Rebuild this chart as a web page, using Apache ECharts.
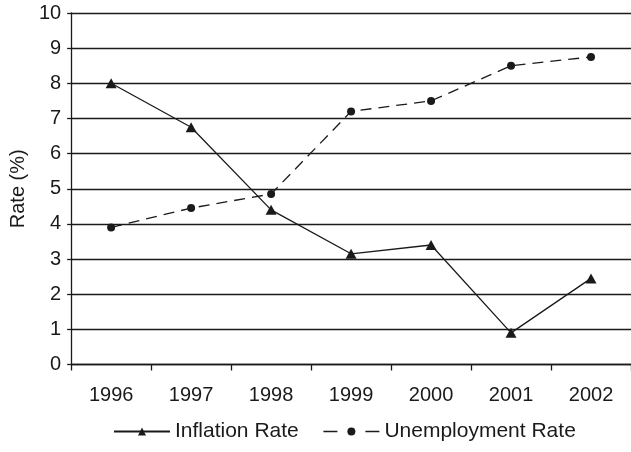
<!DOCTYPE html>
<html>
<head>
<meta charset="utf-8">
<script src="https://cdn.jsdelivr.net/npm/echarts@6/dist/echarts.min.js"></script>
<style>html,body{margin:0;padding:0;background:#fff;}#c{width:631px;height:452px;}</style>
</head>
<body>
<div id="c"></div>
<script>
var categories = ['1996', '1997', '1998', '1999', '2000', '2001', '2002'];
var inflationRate = [8.0, 6.75, 4.4, 3.15, 3.4, 0.9, 2.45];
var unemploymentRate = [3.9, 4.45, 4.85, 7.2, 7.5, 8.5, 8.75];
var yTicks = [0, 1, 2, 3, 4, 5, 6, 7, 8, 9, 10];

var FONT = '"Liberation Sans", Arial, sans-serif';
var INK = '#1a1a1a';
var chart = echarts.init(document.getElementById('c'), null, {renderer: 'canvas'});
chart.setOption({
  animation: false,
  backgroundColor: '#fff',
  textStyle: {fontFamily: FONT},
  grid: {left: 64, right: -7, top: 13, bottom: 87.5, containLabel: false},
  legend: {
    bottom: 5,
    left: 108,
    itemWidth: 56,
    itemHeight: 10,
    itemGap: 24,
    textStyle: {fontFamily: FONT, fontSize: 21, color: INK},
    data: [
      {name: 'Inflation Rate'},
      {name: 'Unemployment Rate', lineStyle: {type: [14, 28], width: 1.3, color: INK}}
    ]
  },
  xAxis: {
    type: 'category',
    data: categories,
    boundaryGap: true,
    axisLine: {lineStyle: {color: INK, width: 1.3}},
    axisTick: {show: true, length: 6, inside: false, lineStyle: {color: INK, width: 1.3}},
    axisLabel: {margin: 21, fontSize: 20, color: INK, fontFamily: FONT},
    splitLine: {show: false}
  },
  yAxis: {
    type: 'value',
    min: yTicks[0],
    max: yTicks[yTicks.length - 1],
    interval: 1,
    name: 'Rate (%)',
    nameLocation: 'middle',
    nameRotate: 90,
    nameGap: 37,
    nameTextStyle: {fontSize: 20, color: INK, fontFamily: FONT},
    axisLine: {show: true, lineStyle: {color: INK, width: 1.3}},
    axisTick: {show: true, length: 4, lineStyle: {color: INK, width: 1.3}},
    axisLabel: {margin: 10, fontSize: 20, color: INK, fontFamily: FONT},
    splitLine: {show: true, lineStyle: {color: INK, width: 1.3}}
  },
  series: [
    {
      name: 'Inflation Rate',
      type: 'line',
      data: inflationRate,
      symbol: 'triangle',
      symbolSize: [11, 10],
      itemStyle: {color: INK},
      lineStyle: {color: INK, width: 1.3, type: 'solid'}
    },
    {
      name: 'Unemployment Rate',
      type: 'line',
      data: unemploymentRate,
      symbol: 'circle',
      symbolSize: 8,
      itemStyle: {color: INK},
      lineStyle: {color: INK, width: 1.3, type: [11, 7]}
    }
  ]
});
</script>
</body>
</html>
